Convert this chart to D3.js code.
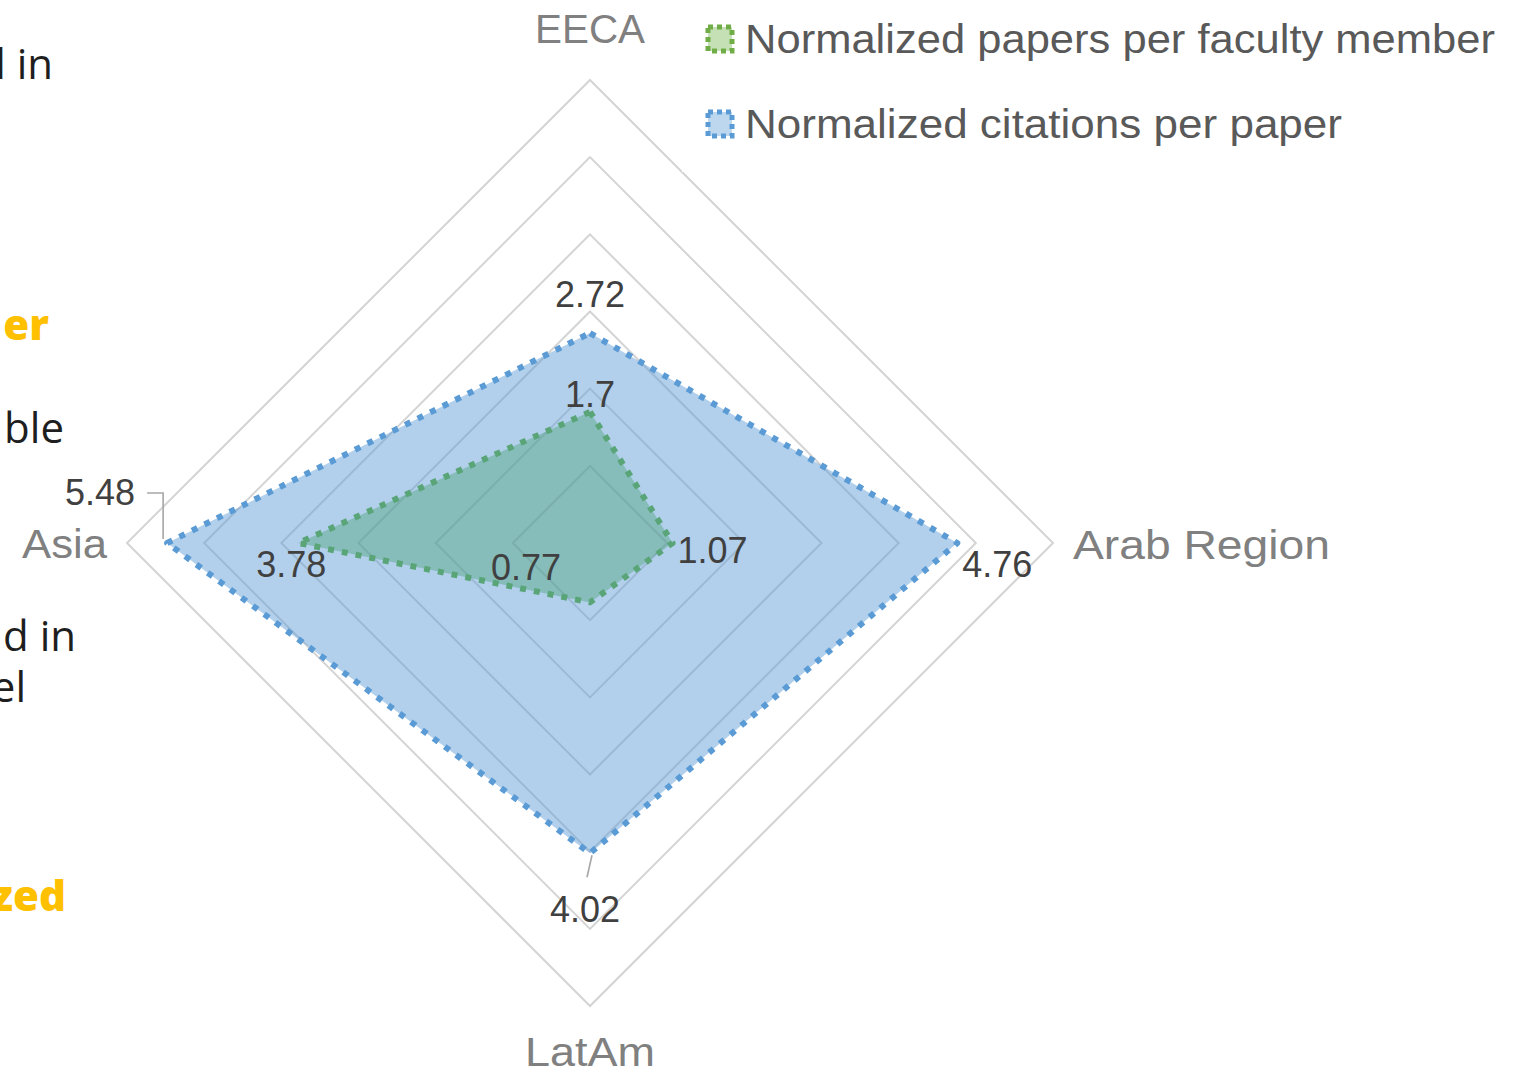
<!DOCTYPE html>
<html><head><meta charset="utf-8">
<script src="https://cdn.jsdelivr.net/npm/d3@7"></script>
<style>html,body{margin:0;padding:0;background:#fff;overflow:hidden}</style>
</head><body>
<svg id="chart" width="1524" height="1073"></svg>
<script>
// ---- data ----
const categories = ["EECA", "Arab Region", "LatAm", "Asia"];
const papersPerFaculty = [1.7, 1.07, 0.77, 3.78];
const citationsPerPaper = [2.72, 4.76, 4.02, 5.48];
const seriesNames = ["Normalized papers per faculty member", "Normalized citations per paper"];
const ringTicks = [1, 2, 3, 4, 5, 6];
const slideFragments = ["l in", "er", "ble", "d in", "el", "zed"];

// ---- layout / style ----
const W = 1524, H = 1073;
const cx = 590, cy = 543, R = 463;
const svg = d3.select("#chart");
const r = d3.scaleLinear().domain([0, 6]).range([0, R]);
const angle = d3.scaleBand().domain(categories).range([0, 2 * Math.PI]);
const ang = c => angle(c) - Math.PI / 2;
const pt = (c, v) => [cx + r(v) * Math.cos(ang(c)), cy + r(v) * Math.sin(ang(c))];

// background slide text fragments (cut off at left edge)
const fragStyle = [
  {y: 79, x: 53, bold: false}, {y: 340, x: 49, bold: true}, {y: 443, x: 64, bold: false},
  {y: 651, x: 76, bold: false}, {y: 702, x: 26, bold: false}, {y: 911, x: 66, bold: true}
];
svg.append("g").selectAll("text").data(slideFragments).join("text")
  .attr("x", (d, i) => fragStyle[i].x).attr("y", (d, i) => fragStyle[i].y)
  .attr("text-anchor", "end")
  .attr("font-family", "'Open Sans', Lato, sans-serif")
  .attr("font-size", 42)
  .attr("font-weight", (d, i) => fragStyle[i].bold ? 800 : 400)
  .attr("fill", (d, i) => fragStyle[i].bold ? "#ffc000" : "#1e1e1e")
  .text(d => d);

// grid rings
svg.append("g").selectAll("path").data(ringTicks).join("path")
  .attr("d", t => d3.line().curve(d3.curveLinearClosed)(categories.map(c => pt(c, t))))
  .attr("fill", "none").attr("stroke", "#d4d4d4").attr("stroke-width", 2);

// legend background covers grid
svg.append("rect").attr("x", 682).attr("y", 0).attr("width", W - 682).attr("height", 172).attr("fill", "#fff");

// series
const series = [
  {name: seriesNames[1], values: citationsPerPaper, fill: "#5b9bd5", op: 0.47, stroke: "#5b9bd5"},
  {name: seriesNames[0], values: papersPerFaculty, fill: "#4aa078", op: 0.42, stroke: "#59a578"}
];
const gS = svg.append("g");
series.forEach(s => {
  const pts = categories.map((c, i) => pt(c, s.values[i]));
  gS.append("path").attr("d", d3.line().curve(d3.curveLinearClosed)(pts))
    .attr("fill", s.fill).attr("fill-opacity", s.op).attr("stroke", "none");
});
series.forEach(s => {
  const pts = categories.map((c, i) => pt(c, s.values[i]));
  gS.append("path").attr("d", d3.line().curve(d3.curveLinearClosed)(pts))
    .attr("fill", "none").attr("stroke", s.stroke).attr("stroke-width", 6)
    .attr("stroke-dasharray", "6 8").attr("stroke-linejoin", "round");
});

// data labels
const labelFont = "'Liberation Sans', Arial, sans-serif";
const cOff = [{dx: 0, dy: -26, a: "middle"}, {dx: 5, dy: 34, a: "start"}, {dx: -5, dy: 69, a: "middle"}, {dx: -32, dy: -38, a: "end"}];
const pOff = [{dx: 0, dy: -5, a: "middle"}, {dx: 5, dy: 20, a: "start"}, {dx: -64, dy: -22, a: "middle"}, {dx: -7, dy: 34, a: "middle"}];
const gL = svg.append("g").attr("font-family", labelFont).attr("font-size", 36).attr("fill", "#404040");
categories.forEach((c, i) => {
  const p = pt(c, citationsPerPaper[i]);
  gL.append("text").attr("x", p[0] + cOff[i].dx).attr("y", p[1] + cOff[i].dy)
    .attr("text-anchor", cOff[i].a).text(d3.format(".2f")(citationsPerPaper[i]));
  const q = pt(c, papersPerFaculty[i]);
  gL.append("text").attr("x", q[0] + pOff[i].dx).attr("y", q[1] + pOff[i].dy)
    .attr("text-anchor", pOff[i].a).text(String(papersPerFaculty[i]));
});
// leader lines
const pAsia = pt("Asia", citationsPerPaper[3]);
svg.append("path").attr("d", `M${pAsia[0] - 20},${pAsia[1] - 50}H${pAsia[0] - 4}V${pAsia[1] - 4}`)
  .attr("fill", "none").attr("stroke", "#a6a6a6").attr("stroke-width", 1.6);
const pLat = pt("LatAm", citationsPerPaper[2]);
svg.append("path").attr("d", `M${pLat[0] + 2},${pLat[1] + 2}L${pLat[0] - 3},${pLat[1] + 24}`)
  .attr("fill", "none").attr("stroke", "#a6a6a6").attr("stroke-width", 1.6);

// category labels
const catPos = [{dx: 0, dy: -37, a: "middle"}, {dx: 20, dy: 16, a: "start"}, {dx: 0, dy: 60, a: "middle"}, {dx: -20, dy: 15, a: "end"}];
const catLen = [110, 257, 130, 85];
svg.append("g").selectAll("text").data(categories).join("text")
  .attr("x", (c, i) => pt(c, 6)[0] + catPos[i].dx)
  .attr("y", (c, i) => pt(c, 6)[1] + catPos[i].dy)
  .attr("text-anchor", (c, i) => catPos[i].a)
  .attr("font-family", labelFont).attr("font-size", 41).attr("fill", "#808080")
  .attr("textLength", (c, i) => catLen[i]).attr("lengthAdjust", "spacingAndGlyphs")
  .text(c => c);

// legend
const legend = [
  {name: seriesNames[0], y: 53, fill: "#c5e0b4", stroke: "#70ad47", len: 750},
  {name: seriesNames[1], y: 138, fill: "#bdd7ee", stroke: "#5b9bd5", len: 597}
];
const gLeg = svg.append("g");
legend.forEach(l => {
  gLeg.append("rect").attr("x", 708).attr("y", l.y - 26).attr("width", 24).attr("height", 24)
    .attr("fill", l.fill).attr("stroke", l.stroke).attr("stroke-width", 5).attr("stroke-dasharray", "5 4");
  gLeg.append("text").attr("x", 745).attr("y", l.y)
    .attr("font-family", labelFont).attr("font-size", 40).attr("fill", "#595959")
    .attr("textLength", l.len).attr("lengthAdjust", "spacingAndGlyphs").text(l.name);
});
</script>
</body></html>
